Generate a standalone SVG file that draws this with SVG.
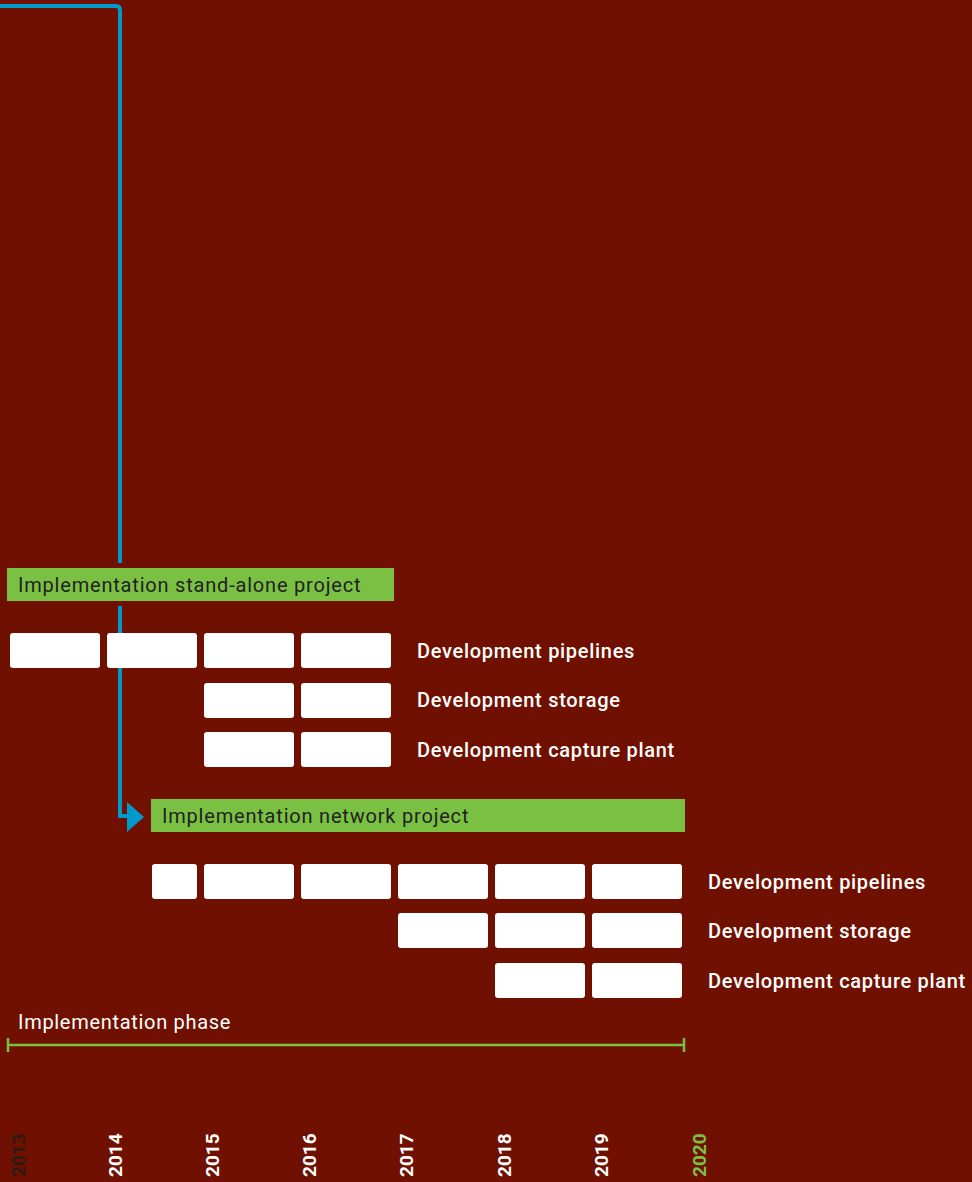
<svg xmlns="http://www.w3.org/2000/svg" width="972" height="1182" viewBox="0 0 972 1182">
<defs>
<style>
.bar{fill:#ffffff}
.grn{fill:#7ac143}
.hd{font-family:Roboto,"Liberation Sans",sans-serif;font-size:20px;fill:#222222;letter-spacing:0.8px}
.lb{font-family:Roboto,"Liberation Sans",sans-serif;font-size:20px;fill:#ffffff;font-weight:500;letter-spacing:0.7px}
.yr{font-family:Roboto,"Liberation Sans",sans-serif;font-size:19px;font-weight:bold;fill:#ffffff}
.conn{fill:none;stroke:#0099cc;stroke-width:4}
</style>
</defs>
<rect width="972" height="1182" fill="#701000"/>
<g id="connectors">
<path class="conn" d="M0,6 H116 Q120,6 120,10 V563"/>
<path class="conn" d="M120,606 V816 H130"/>
<polygon points="127,802 144,817 127,832" fill="#0099cc"/>
</g>
<g id="standalone">
<rect class="grn" x="7" y="568" width="387" height="33"/>
<text class="hd" x="18" y="592">Implementation stand-alone project</text>
</g>
<g id="sa-pipelines">
<rect class="bar" x="10" y="633" width="90" height="35" rx="3"/>
<rect class="bar" x="107" y="633" width="90" height="35" rx="3"/>
<rect class="bar" x="204" y="633" width="90" height="35" rx="3"/>
<rect class="bar" x="301" y="633" width="90" height="35" rx="3"/>
<text class="lb" x="417" y="658">Development pipelines</text>
</g>
<g id="sa-storage">
<rect class="bar" x="204" y="683" width="90" height="35" rx="3"/>
<rect class="bar" x="301" y="683" width="90" height="35" rx="3"/>
<text class="lb" x="417" y="707">Development storage</text>
</g>
<g id="sa-capture">
<rect class="bar" x="204" y="732" width="90" height="35" rx="3"/>
<rect class="bar" x="301" y="732" width="90" height="35" rx="3"/>
<text class="lb" x="417" y="757">Development capture plant</text>
</g>
<g id="network">
<rect class="grn" x="151" y="799" width="534" height="33"/>
<text class="hd" x="162" y="823">Implementation network project</text>
</g>
<g id="nw-pipelines">
<rect class="bar" x="152" y="864" width="45" height="35" rx="3"/>
<rect class="bar" x="204" y="864" width="90" height="35" rx="3"/>
<rect class="bar" x="301" y="864" width="90" height="35" rx="3"/>
<rect class="bar" x="398" y="864" width="90" height="35" rx="3"/>
<rect class="bar" x="495" y="864" width="90" height="35" rx="3"/>
<rect class="bar" x="592" y="864" width="90" height="35" rx="3"/>
<text class="lb" x="708" y="889">Development pipelines</text>
</g>
<g id="nw-storage">
<rect class="bar" x="398" y="913" width="90" height="35" rx="3"/>
<rect class="bar" x="495" y="913" width="90" height="35" rx="3"/>
<rect class="bar" x="592" y="913" width="90" height="35" rx="3"/>
<text class="lb" x="708" y="938">Development storage</text>
</g>
<g id="nw-capture">
<rect class="bar" x="495" y="963" width="90" height="35" rx="3"/>
<rect class="bar" x="592" y="963" width="90" height="35" rx="3"/>
<text class="lb" x="708" y="988">Development capture plant</text>
</g>
<g id="phase">
<text class="lb" x="18" y="1029" style="font-weight:normal;letter-spacing:0.7px">Implementation phase</text>
<path d="M8,1045 H684 M8,1038 V1052 M684,1038 V1052" stroke="#7ac143" stroke-width="2.5" fill="none"/>
</g>
<g id="years">
<text class="yr" transform="translate(25,1177) rotate(-90)" style="fill:#2e1a14">2013</text>
<text class="yr" transform="translate(122,1177) rotate(-90)">2014</text>
<text class="yr" transform="translate(219,1177) rotate(-90)">2015</text>
<text class="yr" transform="translate(316,1177) rotate(-90)">2016</text>
<text class="yr" transform="translate(413,1177) rotate(-90)">2017</text>
<text class="yr" transform="translate(511,1177) rotate(-90)">2018</text>
<text class="yr" transform="translate(608,1177) rotate(-90)">2019</text>
<text class="yr" transform="translate(706,1177) rotate(-90)" style="fill:#7ac143">2020</text>
</g>
</svg>
